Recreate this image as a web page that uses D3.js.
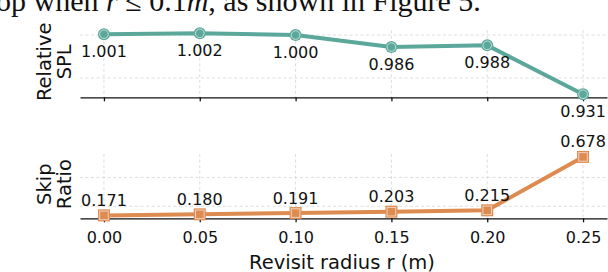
<!DOCTYPE html>
<html>
<head>
<meta charset="utf-8">
<script src="https://cdn.jsdelivr.net/npm/d3@7"></script>
<style>
  body { margin: 0; background: #fff; }
  svg { display: block; }
</style>
</head>
<body>
<div id="chart"></div>
<script>
// data
const radius = [0.00, 0.05, 0.10, 0.15, 0.20, 0.25];
const relSpl = [1.001, 1.002, 1.000, 0.986, 0.988, 0.931];
const skipRatio = [0.171, 0.180, 0.191, 0.203, 0.215, 0.678];
const splLabels = ["1.001", "1.002", "1.000", "0.986", "0.988", "0.931"];
const skipLabels = ["0.171", "0.180", "0.191", "0.203", "0.215", "0.678"];
const splGrid = [0.95, 1.00];
const skipGrid = [0.25, 0.50];

const w = 608, h = 272;
const teal = "#5ba89b", orange = "#de8b51";
const sans = "DejaVu Sans, sans-serif";

const svg = d3.select("#chart").append("svg")
    .attr("width", w)
    .attr("height", h);

// clipped line of body text above the figure
const caption = svg.append("text")
    .attr("x", -4)
    .attr("y", 11)
    .attr("font-family", "Liberation Serif, serif")
    .attr("font-size", 30)
    .attr("fill", "#111");
caption.append("tspan").text("op when ");
caption.append("tspan").attr("font-style", "italic").text("r");
caption.append("tspan").text(" \u2264 0.1");
caption.append("tspan").attr("font-style", "italic").text("m");
caption.append("tspan").text(", as shown in Figure 5.");

const x = d3.scaleLinear().domain([-0.0125, 0.2625]).range([80, 607]);

function fmtDomain(vals) {
  const lo = d3.min(vals), hi = d3.max(vals), m = (hi - lo) * 0.05;
  return [lo - m, hi + m];
}

const panels = [
  {vals: relSpl, labels: splLabels, grid: splGrid, color: teal, shape: "circle",
   top: 30.3, bottom: 97.3, title: ["Relative", "SPL"], labelDy: 17, ticks: false},
  {vals: skipRatio, labels: skipLabels, grid: skipGrid, color: orange, shape: "square",
   top: 154, bottom: 218.3, title: ["Skip", "Ratio"], labelDy: -15, ticks: true}
];

panels.forEach(function(p) {
  const y = d3.scaleLinear().domain(fmtDomain(p.vals)).range([p.bottom, p.top]);
  const g = svg.append("g");

  // grid
  g.selectAll("line.hgrid")
    .data(p.grid)
    .enter().append("line")
    .attr("x1", x.range()[0]).attr("x2", x.range()[1])
    .attr("y1", function(d) { return y(d); })
    .attr("y2", function(d) { return y(d); })
    .attr("stroke", "#d4d4d4").attr("stroke-width", 0.8)
    .attr("stroke-dasharray", "3,2.5");

  g.selectAll("line.vgrid")
    .data(radius)
    .enter().append("line")
    .attr("x1", function(d) { return x(d); })
    .attr("x2", function(d) { return x(d); })
    .attr("y1", p.top).attr("y2", p.bottom)
    .attr("stroke", "#d4d4d4").attr("stroke-width", 0.8)
    .attr("stroke-dasharray", "3,2.5");

  // x axis
  const axis = d3.axisBottom(x)
      .tickValues(radius)
      .tickSize(4)
      .tickPadding(9)
      .tickSizeOuter(0)
      .tickFormat(p.ticks ? d3.format(".2f") : "");
  const ax = g.append("g")
      .attr("transform", "translate(0," + p.bottom + ")")
      .call(axis);
  ax.select(".domain").attr("stroke", "#111").attr("stroke-width", 1.3);
  ax.selectAll(".tick line").attr("stroke", "#111").attr("stroke-width", 1.3);
  ax.selectAll(".tick text")
    .attr("font-family", sans).attr("font-size", 16).attr("fill", "#111");

  // line
  const line = d3.line()
      .x(function(d, i) { return x(radius[i]); })
      .y(function(d) { return y(d); });
  g.append("path")
    .datum(p.vals)
    .attr("d", line)
    .attr("fill", "none")
    .attr("stroke", p.color)
    .attr("stroke-width", 4)
    .attr("stroke-linejoin", "round");

  // markers
  if (p.shape === "circle") {
    g.selectAll("circle.pt")
      .data(p.vals)
      .enter().append("circle")
      .attr("cx", function(d, i) { return x(radius[i]); })
      .attr("cy", function(d) { return y(d); })
      .attr("r", 6)
      .attr("fill", p.color);
    g.selectAll("circle.ring")
      .data(p.vals)
      .enter().append("circle")
      .attr("cx", function(d, i) { return x(radius[i]); })
      .attr("cy", function(d) { return y(d); })
      .attr("r", 4.3)
      .attr("fill", "none")
      .attr("stroke", "rgba(255,255,255,0.6)")
      .attr("stroke-width", 1);
  } else {
    g.selectAll("rect.pt")
      .data(p.vals)
      .enter().append("rect")
      .attr("x", function(d, i) { return x(radius[i]) - 6; })
      .attr("y", function(d) { return y(d) - 6; })
      .attr("width", 12).attr("height", 12)
      .attr("fill", p.color);
    g.selectAll("rect.ring")
      .data(p.vals)
      .enter().append("rect")
      .attr("x", function(d, i) { return x(radius[i]) - 4.3; })
      .attr("y", function(d) { return y(d) - 4.3; })
      .attr("width", 8.6).attr("height", 8.6)
      .attr("fill", "none")
      .attr("stroke", "rgba(255,255,255,0.6)")
      .attr("stroke-width", 1);
  }

  // value labels
  g.selectAll("text.val")
    .data(p.vals)
    .enter().append("text")
    .attr("x", function(d, i) { return x(radius[i]); })
    .attr("y", function(d) { return y(d) + p.labelDy; })
    .attr("text-anchor", "middle")
    .attr("dominant-baseline", "central")
    .attr("font-family", sans).attr("font-size", 16).attr("fill", "#111")
    .text(function(d, i) { return p.labels[i]; });

  // y title, two lines
  const cy = (p.top + p.bottom) / 2 - 2;
  p.title.forEach(function(t, i) {
    svg.append("text")
      .attr("transform", "translate(" + (44 + i * 20) + "," + cy + ") rotate(-90)")
      .attr("text-anchor", "middle")
      .attr("dominant-baseline", "central")
      .attr("font-family", sans).attr("font-size", 19.5).attr("fill", "#111")
      .text(t);
  });
});

svg.append("text")
  .attr("x", 342)
  .attr("y", 269)
  .attr("text-anchor", "middle")
  .attr("font-family", sans).attr("font-size", 19.5).attr("fill", "#111")
  .text("Revisit radius r (m)");
</script>
</body>
</html>
